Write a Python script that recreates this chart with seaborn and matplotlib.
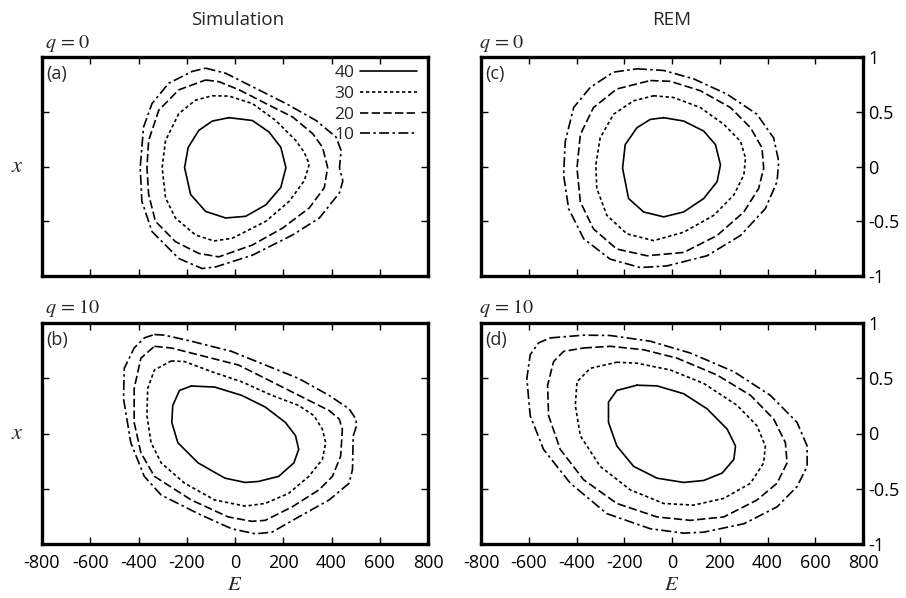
import numpy as np
import pandas as pd
import matplotlib
matplotlib.use('Agg')
import matplotlib.pyplot as plt
from matplotlib.lines import Line2D
import seaborn as sns

# contour levels and their line dashes
levels = ['40', '30', '20', '10']

# (E, x) points, panel (a): simulation, q = 0
sim_q0_40 = [(-25, 0.446), (72, 0.42), (141, 0.315), (190, 0.175), (211, -0.01), (190, -0.19), (128, -0.35),
             (44, -0.455), (-39, -0.47), (-122, -0.41), (-184, -0.255), (-209, -0.01), (-194, 0.175),
             (-150, 0.33), (-94, 0.415)]
sim_q0_30 = [(-94, 0.646), (-25, 0.643), (72, 0.575), (169, 0.42), (252, 0.237), (287, 0.13), (308, 0.02),
             (287, -0.13), (225, -0.317), (128, -0.50), (-11, -0.655), (-87, -0.68), (-164, -0.625),
             (-247, -0.47), (-288, -0.286), (-302, -0.01), (-288, 0.237), (-233, 0.483), (-164, 0.606)]
sim_q0_20 = [(-122, 0.79), (-67, 0.775), (17, 0.70), (128, 0.575), (239, 0.452), (322, 0.30), (363, 0.175),
             (384, -0.01), (370, -0.194), (308, -0.378), (197, -0.563), (72, -0.717), (-67, -0.825),
             (-150, -0.794), (-247, -0.686), (-330, -0.50), (-358, -0.255), (-365, -0.01), (-358, 0.237),
             (-316, 0.514), (-233, 0.70)]
sim_q0_10 = [(-122, 0.898), (-39, 0.852), (72, 0.729), (211, 0.575), (336, 0.42), (419, 0.268), (440, 0.145),
             (433, -0.01), (447, -0.132), (433, -0.24), (350, -0.47), (239, -0.625), (72, -0.81),
             (-80, -0.917), (-136, -0.932), (-233, -0.84), (-344, -0.594), (-386, -0.317), (-393, -0.01),
             (-379, 0.36), (-344, 0.575), (-275, 0.76), (-178, 0.868)]

# panel (b): simulation, q = 10
sim_q10_40 = [(-181, 0.43), (-84, 0.42), (28, 0.345), (125, 0.24), (209, 0.10), (251, -0.02), (264, -0.144),
              (244, -0.266), (181, -0.388), (97, -0.434), (42, -0.443), (-42, -0.404), (-153, -0.266),
              (-237, -0.083), (-262, 0.10), (-258, 0.254), (-230, 0.39)]
sim_q10_30 = [(-264, 0.657), (-209, 0.651), (-97, 0.56), (28, 0.468), (153, 0.345), (264, 0.254), (327, 0.162),
              (362, 0.04), (376, -0.083), (362, -0.235), (306, -0.388), (223, -0.541), (125, -0.633),
              (42, -0.657), (-84, -0.602), (-209, -0.45), (-306, -0.266), (-348, -0.083), (-365, 0.162),
              (-362, 0.407), (-334, 0.575)]
sim_q10_20 = [(-334, 0.789), (-264, 0.774), (-125, 0.697), (14, 0.62), (153, 0.468), (292, 0.315), (390, 0.208),
              (432, 0.131), (445, 0.04), (438, -0.205), (404, -0.388), (348, -0.51), (237, -0.664),
              (125, -0.786), (70, -0.795), (-28, -0.755), (-181, -0.602), (-334, -0.388), (-390, -0.174),
              (-418, 0.10), (-418, 0.407), (-390, 0.682)]
sim_q10_10 = [(-334, 0.896), (-292, 0.89), (-181, 0.835), (-14, 0.743), (125, 0.62), (264, 0.498), (390, 0.345),
              (473, 0.223), (501, 0.131), (504, 0.07), (490, -0.021), (487, -0.327), (473, -0.45),
              (390, -0.602), (264, -0.755), (153, -0.893), (84, -0.908), (-14, -0.862), (-153, -0.725),
              (-306, -0.557), (-376, -0.388), (-432, -0.083), (-462, 0.315), (-459, 0.59), (-418, 0.774),
              (-376, 0.865)]

# panel (c): REM, q = 0
rem_q0_40 = [(-35, 0.446), (49, 0.415), (133, 0.323), (182, 0.2), (203, 0.015), (189, -0.138), (133, -0.292),
             (49, -0.415), (-35, -0.46), (-119, -0.415), (-182, -0.292), (-207, -0.015), (-196, 0.2),
             (-147, 0.354), (-91, 0.43)]
rem_q0_30 = [(-77, 0.646), (7, 0.63), (119, 0.538), (217, 0.385), (287, 0.23), (308, 0.077), (301, -0.077),
             (259, -0.26), (175, -0.446), (49, -0.60), (-77, -0.677), (-189, -0.615), (-273, -0.446),
             (-315, -0.2), (-319, 0.015), (-301, 0.26), (-245, 0.477), (-161, 0.6)]
rem_q0_20 = [(-91, 0.785), (-7, 0.778), (119, 0.692), (245, 0.538), (329, 0.354), (377, 0.17), (384, -0.015),
             (363, -0.2), (301, -0.415), (189, -0.63), (49, -0.785), (-105, -0.815), (-231, -0.754),
             (-329, -0.57), (-384, -0.323), (-398, -0.015), (-384, 0.292), (-329, 0.538), (-231, 0.708)]
rem_q0_10 = [(-147, 0.892), (-35, 0.877), (91, 0.80), (231, 0.66), (356, 0.477), (426, 0.26), (447, 0.046),
             (440, -0.138), (391, -0.385), (287, -0.63), (147, -0.815), (-21, -0.908), (-133, -0.923),
             (-259, -0.846), (-370, -0.66), (-433, -0.385), (-454, -0.077), (-447, 0.23), (-412, 0.538),
             (-342, 0.723), (-245, 0.862)]

# panel (d): REM, q = 10
rem_q10_40 = [(-147, 0.437), (-63, 0.431), (49, 0.36), (147, 0.223), (231, 0.04), (266, -0.113), (259, -0.235),
              (210, -0.358), (133, -0.425), (49, -0.443), (-63, -0.404), (-161, -0.297), (-231, -0.113),
              (-266, 0.10), (-266, 0.284), (-231, 0.39)]
rem_q10_30 = [(-231, 0.645), (-147, 0.636), (-7, 0.575), (133, 0.453), (273, 0.254), (356, 0.07), (391, -0.113),
              (384, -0.266), (329, -0.45), (217, -0.587), (91, -0.648), (-35, -0.633), (-175, -0.51),
              (-301, -0.297), (-384, -0.021), (-405, 0.254), (-398, 0.468), (-342, 0.59)]
rem_q10_20 = [(-370, 0.774), (-259, 0.789), (-119, 0.758), (21, 0.682), (189, 0.529), (329, 0.345), (426, 0.131),
              (475, -0.083), (482, -0.266), (440, -0.45), (356, -0.602), (217, -0.755), (77, -0.786),
              (-63, -0.755), (-231, -0.633), (-370, -0.419), (-468, -0.144), (-517, 0.162), (-521, 0.437),
              (-496, 0.651), (-454, 0.743)]
rem_q10_10 = [(-510, 0.865), (-370, 0.89), (-259, 0.887), (-91, 0.835), (77, 0.728), (259, 0.56), (412, 0.345),
              (524, 0.10), (566, -0.113), (566, -0.297), (524, -0.48), (440, -0.664), (301, -0.817),
              (133, -0.893), (49, -0.902), (-91, -0.862), (-273, -0.725), (-426, -0.45), (-538, -0.144),
              (-594, 0.162), (-608, 0.498), (-594, 0.713), (-559, 0.82)]

panels = {
    'a': [sim_q0_40, sim_q0_30, sim_q0_20, sim_q0_10],
    'b': [sim_q10_40, sim_q10_30, sim_q10_20, sim_q10_10],
    'c': [rem_q0_40, rem_q0_30, rem_q0_20, rem_q0_10],
    'd': [rem_q10_40, rem_q10_30, rem_q10_20, rem_q10_10],
}

# long table, each contour closed by repeating its first point
rows = []
for panel, curves in panels.items():
    for level, pts in zip(levels, curves):
        for i, (e, xv) in enumerate(pts + [pts[0]]):
            rows.append({'panel': panel, 'level': level, 'order': i, 'E': e, 'x': xv})
df = pd.DataFrame(rows)

sns.set_style('white')
plt.rcParams['font.family'] = ['Open Sans', 'DejaVu Sans']
plt.rcParams['mathtext.fontset'] = 'stix'

dash_map = {'40': '', '30': (2, 1.6), '20': (5, 2), '10': (6, 2, 1.5, 2)}
LW = 1.2

fig = plt.figure(figsize=(9.06, 5.98), dpi=100)
W, H = 906, 598
def px_axes(l, t, r, b):
    return fig.add_axes([l / W, (H - b) / H, (r - l) / W, (b - t) / H])

axes = {
    'a': px_axes(42, 57, 428, 276),
    'c': px_axes(481, 57, 863, 276),
    'b': px_axes(42, 323, 428, 544),
    'd': px_axes(481, 323, 863, 544),
}

for key, ax in axes.items():
    sub = df[df['panel'] == key]
    sns.lineplot(data=sub, x='E', y='x', style='level', style_order=levels, units='level',
                 estimator=None, sort=False, dashes=dash_map, color='black', lw=LW,
                 solid_joinstyle='round', legend=False, ax=ax)
    ax.set_xlim(-800, 800)
    ax.set_ylim(-1, 1)
    ax.set_xticks(np.arange(-800, 801, 200))
    ax.set_yticks([-1, -0.5, 0, 0.5, 1])
    for s in ax.spines.values():
        s.set_visible(True)
        s.set_linewidth(2.4)
        s.set_color('black')
    ax.tick_params(direction='in', length=5, width=1, top=True, right=True, left=True, bottom=True,
                   labelsize=13, colors='black')
    ax.tick_params(axis='x', pad=7)
    ax.tick_params(axis='y', pad=4)
    ax.set_xlabel('')
    ax.set_ylabel('')
    ax.text(0.012, 0.965, '(' + key + ')', transform=ax.transAxes, va='top', ha='left', fontsize=13)
    if key in ('a', 'c'):
        ax.tick_params(labelbottom=False)
    else:
        ax.set_xticklabels(['-800', '-600', '-400', '-200', '0', '200', '400', '600', '800'])
        ax.set_xlabel('$E$', fontsize=15, labelpad=2)
    if key in ('a', 'b'):
        ax.tick_params(labelleft=False)
        ax.set_ylabel('$x$', fontsize=16, rotation=0, labelpad=18, va='center')
    else:
        ax.tick_params(labelleft=False, labelright=True)
        ax.set_yticklabels(['-1', '-0.5', '0', '0.5', '1'])

# legend in panel (a), label before line
handles = [Line2D([], [], color='black', lw=LW, linestyle='-' if dash_map[lv] == '' else (0, dash_map[lv]))
           for lv in levels]
axes['a'].legend(handles, levels, loc='upper right', frameon=False, markerfirst=False,
                 handlelength=3.3, handletextpad=0.3, labelspacing=0.26, fontsize=12.5,
                 borderpad=0, borderaxespad=0, bbox_to_anchor=(0.9715, 0.962))

fig.text(238 / W, 1 - 20 / H, 'Simulation', ha='center', va='center', fontsize=13.5)
fig.text(672 / W, 1 - 20 / H, 'REM', ha='center', va='center', fontsize=13.5)
for xl, yt, lab in [(45, 43, '$q$ = 0'), (479, 43, '$q$ = 0'), (45, 308, '$q$ = 10'), (479, 308, '$q$ = 10')]:
    fig.text(xl / W, 1 - yt / H, lab, ha='left', va='center', fontsize=14.5, family='STIXGeneral')

fig.savefig('out.png', dpi=100)
